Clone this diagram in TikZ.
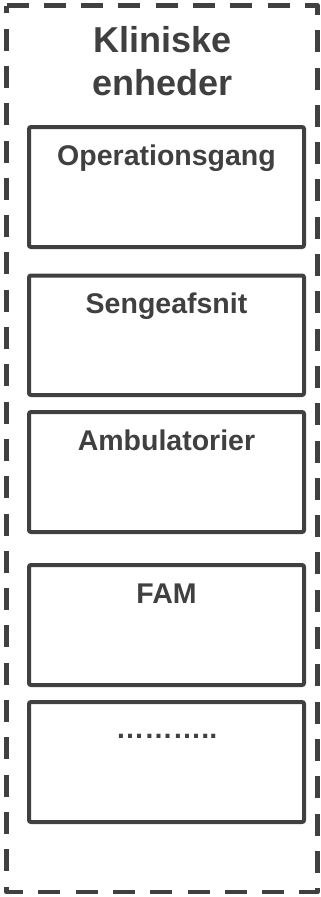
\documentclass[tikz,border=0pt]{standalone}
\usepackage{fontspec}
\setmainfont{Liberation Sans}
\definecolor{ink}{HTML}{404040}
\tikzset{
  unitbox/.style={draw=ink, line width=4pt, rounded corners=2pt, minimum width=275pt, minimum height=120pt, inner sep=0pt, outer sep=0pt},
  unitlabel/.style={anchor=base, text=ink, inner sep=0pt, font=\bfseries\fontsize{28.5}{34}\selectfont},
  titlelabel/.style={anchor=base, text=ink, inner sep=0pt, font=\bfseries\fontsize{36}{43}\selectfont},
  groupframe/.style={draw=ink, line width=4.5pt, dash pattern=on 22pt off 15.3pt, line join=round}
}
\begin{document}
\begin{tikzpicture}[x=1pt,y=1pt]
\useasboundingbox (0,0) rectangle (321,-897);
\coordinate (tl) at (6.5,-5.5);
\coordinate (tr) at (317.5,-5.5);
\coordinate (br) at (317.5,-892);
\coordinate (bl) at (6.5,-892);
\draw[groupframe] (tl) -- (tr) -- (br) -- (bl) -- cycle;
\node[titlelabel] (t1) at (162.5,-52) {Kliniske};
\node[titlelabel] (t2) at (162.5,-95) {enheder};
\node[unitbox] (b1) at (166.5,-187) {};
\node[unitbox, minimum height=119.5pt] (b2) at (166.5,-335.25) {};
\node[unitbox] (b3) at (166.5,-472) {};
\node[unitbox] (b4) at (166.5,-625) {};
\node[unitbox] (b5) at (166.5,-762) {};
\node[unitlabel] (l1) at ([yshift=-38pt]b1.north) {Operationsgang};
\node[unitlabel] (l2) at ([yshift=-38pt]b2.north) {Sengeafsnit};
\node[unitlabel] (l3) at ([yshift=-38pt]b3.north) {Ambulatorier};
\node[unitlabel] (l4) at ([yshift=-38pt]b4.north) {FAM};
\node[unitlabel] (l5) at ([yshift=-36pt]b5.north) {………..};
\end{tikzpicture}
\end{document}
